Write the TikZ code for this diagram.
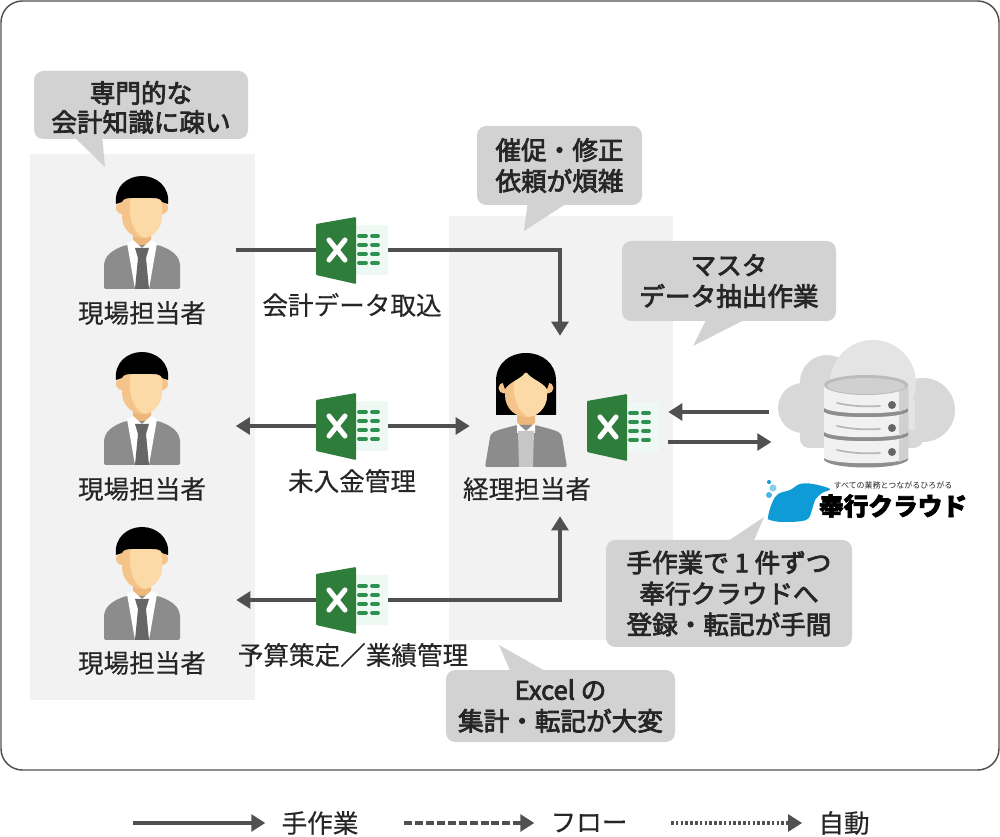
\documentclass[tikz,border=0pt]{standalone}
\usepackage{fontspec}
\setmainfont{Noto Sans CJK JP}
\usetikzlibrary{arrows.meta,positioning,calc}
\definecolor{ink}{HTML}{262626}
\definecolor{linegray}{HTML}{505050}
\definecolor{panelgray}{HTML}{F2F2F2}
\definecolor{bubblegray}{HTML}{D2D2D2}
\definecolor{skin}{HTML}{FCDAA8}
\definecolor{skindark}{HTML}{F5C48A}
\definecolor{neckskin}{HTML}{EDB77C}
\definecolor{jacket}{HTML}{8C8C8C}
\definecolor{tiegray}{HTML}{666666}
\definecolor{xlgreen}{HTML}{2E7D3A}
\definecolor{xlrow}{HTML}{2F9150}
\definecolor{xlback}{HTML}{EFF9F4}
\definecolor{cloudA}{HTML}{D8D8D8}
\definecolor{cloudB}{HTML}{E4E4E4}
\definecolor{dbbody}{HTML}{F1F1F1}
\definecolor{dbside}{HTML}{D0D0D0}
\definecolor{dbband}{HTML}{8E8E8E}
\definecolor{logoblue}{HTML}{0E9BD6}
\tikzset{
  x=0.75pt,y=-0.75pt,
  panelbox/.style={fill=panelgray,draw=none,inner sep=0pt},
  bubble/.style={fill=bubblegray,draw=none,rounded corners=7pt,inner sep=0pt,align=center,text=ink,
     font=\fontsize{19.2}{23.2}\selectfont\addfontfeature{FakeBold=3}},
  bubbletail/.style={fill=bubblegray,draw=none},
  caption/.style={text=ink,inner sep=0pt,font=\fontsize{19.2}{23}\selectfont\addfontfeature{FakeBold=0.3}},
  holder/.style={draw=none,fill=none,inner sep=0pt},
  mainarrow/.style={draw=linegray,line width=3.3pt,-{Triangle[length=10.5pt,width=12.5pt]}},
  bothways/.style={draw=linegray,line width=3.3pt,{Triangle[length=10.5pt,width=12.5pt]}-{Triangle[length=10.5pt,width=12.5pt]}},
  plainline/.style={draw=linegray,line width=3.3pt},
  pics/person/.style={code={
    \fill[neckskin] (-9,18) -- (9,18) -- (9,34) -- (0,40) -- (-9,34) -- cycle;
    \fill[jacket,rounded corners=1.5pt] (-38,79) -- (-38,58) .. controls (-38,46) and (-30,40) .. (-16,35) -- (16,35) .. controls (30,40) and (38,46) .. (38,58) -- (38,79) -- cycle;
    \fill[white] (-15,33) -- (-9,30) -- (0,38) -- (9,30) -- (15,33) -- (7,79) -- (-7,79) -- cycle;
    \fill[tiegray] (-7,38) -- (7,38) -- (4,48) -- (7,79) -- (-7,79) -- (-4,48) -- cycle;
    \fill[skindark] (-20,-2) circle[radius=6];
    \fill[skindark] (20,-2) circle[radius=6];
    \fill[skindark] (-20,-20) -- (20,-20) -- (20,6) .. controls (20,20) and (9,28) .. (0,28) .. controls (-9,28) and (-20,20) .. (-20,6) -- cycle;
    \fill[skin] (-12,-20) -- (20,-20) -- (20,6) .. controls (20,20) and (9,28) .. (2,28) .. controls (-7,24) and (-12,12) .. (-12,0) -- cycle;
    \fill[black] (-26,-6) .. controls (-28,-24) and (-14,-34) .. (0,-34) .. controls (14,-34) and (28,-24) .. (26,-6) -- (20,-8) .. controls (19,-11) and (16,-12) .. (10,-12) -- (-10,-12) .. controls (-16,-12) and (-19,-11) .. (-20,-8) -- cycle;
  }},
  pics/manager/.style={code={
    \fill[black] (-30,30) -- (-30,-4) .. controls (-30,-22) and (-16,-32) .. (0,-32) .. controls (16,-32) and (30,-22) .. (30,-4) -- (30,30) -- cycle;
    \fill[neckskin] (-9,20) -- (9,20) -- (9,38) -- (0,46) -- (-9,38) -- cycle;
    \fill[jacket,rounded corners=1.5pt] (-41,82) -- (-36,52) .. controls (-34,46) and (-24,44) .. (-9,40) -- (9,40) .. controls (24,44) and (34,46) .. (36,52) -- (41,82) -- cycle;
    \fill[white] (-9,38) -- (0,46) -- (9,38) -- (9,48) -- (-9,48) -- cycle;
    \fill[gray!45] (-8,46) -- (8,46) -- (7,82) -- (-7,82) -- cycle;
    \fill[skindark] (-22,3) circle[radius=5.5];
    \fill[skindark] (22,3) circle[radius=5.5];
    \fill[skindark] (-21,-12) -- (21,-12) -- (21,10) .. controls (21,24) and (10,32) .. (0,32) .. controls (-10,32) and (-21,24) .. (-21,10) -- cycle;
    \fill[skin] (-12,-12) -- (21,-12) -- (21,10) .. controls (21,24) and (10,32) .. (2,32) .. controls (-6,28) and (-12,16) .. (-12,4) -- cycle;
    \fill[black] (0,-14) .. controls (-4,-6) and (-16,-4) .. (-21,4) -- (-26,-10) -- (0,-26) -- (26,-10) -- (21,4) .. controls (16,-4) and (4,-6) .. (0,-14) -- cycle;
  }},
  pics/excelicon/.style={code={
    \fill[xlback] (4,-25) rectangle (36,25);
    \foreach \ry in {-14,-5,4,13} {
      \draw[xlrow,line width=2.8pt,line cap=round] (7,\ry) -- (14,\ry);
      \draw[xlrow,line width=2.8pt,line cap=round] (20,\ry) -- (26,\ry);
    }
    \fill[xlgreen,rounded corners=0.7pt] (-36,-26) -- (4,-33) -- (4,34) -- (-36,25) -- cycle;
    \draw[white,line width=3.8pt,line cap=round] (-23,-10) -- (-7,10);
    \draw[white,line width=3.8pt,line cap=round] (-7,-10) -- (-23,10);
  }},
}
\begin{document}
\begin{tikzpicture}
\useasboundingbox (0,0) rectangle (1000,837);
% outer frame
\draw[line width=1.1pt,draw=linegray,rounded corners=16pt,fill=white] (1,1) rectangle (999,770);
% panels
\node[panelbox,minimum width=168.75pt,minimum height=409.5pt] (panelL) at (142.5,427) {};
\node[panelbox,minimum width=168pt,minimum height=318pt] (panelM) at (561,428) {};
% bubble tails
\fill[bubbletail] (72,135) -- (105,167) -- (102,135) -- cycle;
\fill[bubbletail] (528,200) -- (524,231) -- (572,200) -- cycle;
\fill[bubbletail] (708,316) -- (693,346) -- (752,316) -- cycle;
\fill[bubbletail] (722,545) -- (764,517) -- (752,545) -- cycle;
\fill[bubbletail] (512,675) -- (499,645) -- (552,675) -- cycle;
% bubbles
\node[bubble,minimum width=160.5pt,minimum height=51pt] (b1) at (141,105) {};
\node[bubble,fill=none,font=\fontsize{19.2}{21.8}\selectfont\addfontfeature{FakeBold=3}] (b1t) at (141,107.5) {専門的な\\会計知識に疎い};
\node[bubble,minimum width=123.75pt,minimum height=59.25pt] (b2) at (559.5,165.5) {催促・修正\\依頼が煩雑};
\node[bubble,minimum width=160.5pt,minimum height=60pt] (b3) at (729,281) {マスタ\\データ抽出作業};
\node[bubble,minimum width=184.5pt,minimum height=80.25pt] (b4) at (729,593.5) {手作業で 1 件ずつ\\奉行クラウドへ\\登録・転記が手間};
\node[bubble,minimum width=171.75pt,minimum height=54pt] (b5) at (560.5,706) {Excel の\\集計・転記が大変};
% holders for connector ends
\node[holder,minimum width=141pt,minimum height=60pt] (p1) at (142,250) {};
\node[holder,minimum width=140.25pt,minimum height=60pt] (p2) at (142,426) {};
\node[holder,minimum width=141pt,minimum height=60pt] (p3) at (142,600) {};
\node[holder,minimum width=54pt,minimum height=50pt] (x1) at (352,250) {};
\node[holder,minimum width=54pt,minimum height=50pt] (x2) at (352,426) {};
\node[holder,minimum width=54pt,minimum height=50pt] (x3) at (352,600) {};
\node[holder,minimum width=135pt,minimum height=135pt] (mgr) at (560,426) {};
\node[holder,minimum width=67.5pt,minimum height=50pt] (x4) at (623,427) {};
\node[holder,minimum width=150pt,minimum height=90pt] (cloud) at (869,427) {};
% connectors
\draw[plainline] (p1.east) -- (x1.west);
\draw[mainarrow] (x1.east) -| (mgr.north);
\draw[bothways] (p2.east) -- (mgr.west);
\draw[mainarrow] (x3.west) -- (p3.east);
\draw[mainarrow] (x3.east) -| (mgr.south);
\draw[mainarrow] ([yshift=11.25pt]cloud.west) -- ([yshift=11.25pt]x4.east);
\draw[mainarrow] ([yshift=-11.25pt]x4.east) -- ([yshift=-11.25pt,xshift=2pt]cloud.west);
% persons
\pic at (142,210) {person};
\pic at (142,386) {person};
\pic at (142,561) {person};
\pic at (526,385) {manager};
\pic at (352,250) {excelicon};
\pic at (352,426) {excelicon};
\pic at (352,600) {excelicon};
\pic at (623,427) {excelicon};
% labels
\node[caption] (t1) at (142,313) {現場担当者};
\node[caption] (t2) at (142,489) {現場担当者};
\node[caption] (t3) at (142,663) {現場担当者};
\node[caption] (t4) at (527,489) {経理担当者};
\node[caption] (t5) at (352,305) {会計データ取込};
\node[caption] (t6) at (352,481) {未入金管理};
\node[caption] (t7) at (353,655) {予算策定／業績管理};
% cloud
\fill[cloudA] (803,408) circle[radius=25];
\fill[cloudA] (827,382) circle[radius=27];
\fill[cloudA] (923,410) circle[radius=32];
\fill[cloudA,rounded corners=7pt] (800,420) rectangle (923,448);
\fill[cloudB] (873,383) circle[radius=43];
\fill[cloudB] (826,400) rectangle (915,430);
% database
\fill[dbband] (824,385) -- (908,385) -- (908,460) .. controls (900,470) and (832,470) .. (824,460) -- cycle;
\fill[dbbody] (824,385) -- (908,385) -- (908,408) .. controls (900,415) and (832,415) .. (824,408) -- cycle;
\fill[dbbody] (824,412) .. controls (832,419) and (900,419) .. (908,412) -- (908,432) .. controls (900,439) and (832,439) .. (824,432) -- cycle;
\fill[dbbody] (824,436) .. controls (832,443) and (900,443) .. (908,436) -- (908,458) .. controls (900,465) and (832,465) .. (824,458) -- cycle;
\fill[dbside] (899,385) -- (908,385) -- (908,408) -- (899,412) -- cycle;
\fill[dbside] (899,416) -- (908,412) -- (908,432) -- (899,436) -- cycle;
\fill[dbside] (899,440) -- (908,436) -- (908,458) -- (899,462) -- cycle;
\fill[dbside!90!black] (866,385) ellipse[x radius=42,y radius=10];
\fill[dbside] (866,386) ellipse[x radius=39,y radius=8];
\foreach \dy in {405,428,452} {
  \fill[tiegray] (892,\dy) circle[radius=4];
  \draw[cloudA!85!black,line width=1.3pt,line cap=round] (837,\dy-2) .. controls (850,\dy+1) and (865,\dy+2) .. (880,\dy+1);
}
% logo
\fill[logoblue] plot[smooth cycle,tension=0.6] coordinates {(768,517) (772,503) (778,494) (790,490) (800,484) (813,484) (830,489) (822,493) (815,500) (812,510) (806,520) (783,522) (770,520)};
\fill[logoblue] (769,482) circle[radius=2];
\fill[logoblue!50] (773,488) circle[radius=3.5];
\fill[logoblue!75] (769,495) circle[radius=3];
\node[text=ink,inner sep=0pt,font=\fontsize{6}{7}\selectfont] (logotag) at (893,485) {すべての業務とつながるひろがる};
\node[text=black,inner sep=0pt,font=\fontsize{18.5}{20}\selectfont\addfontfeature{FakeBold=2.5}\bfseries] (logotext) at (893,506) {奉行クラウド};
% legend
\node[caption] (lt1) at (320,823) {手作業};
\node[caption] (lt2) at (589,823) {フロー};
\node[caption] (lt3) at (844,823) {自動};
\coordinate (ls1) at (133,823);
\coordinate (ls2) at (404,823);
\coordinate (ls3) at (671,823);
\draw[mainarrow] (ls1) -- ([xshift=-12pt]lt1.west);
\draw[mainarrow,dash pattern=on 6pt off 2.2pt] (ls2) -- ([xshift=-12pt]lt2.west);
\draw[mainarrow,dash pattern=on 2pt off 1.6pt] (ls3) -- ([xshift=-12pt]lt3.west);
\end{tikzpicture}
\end{document}
